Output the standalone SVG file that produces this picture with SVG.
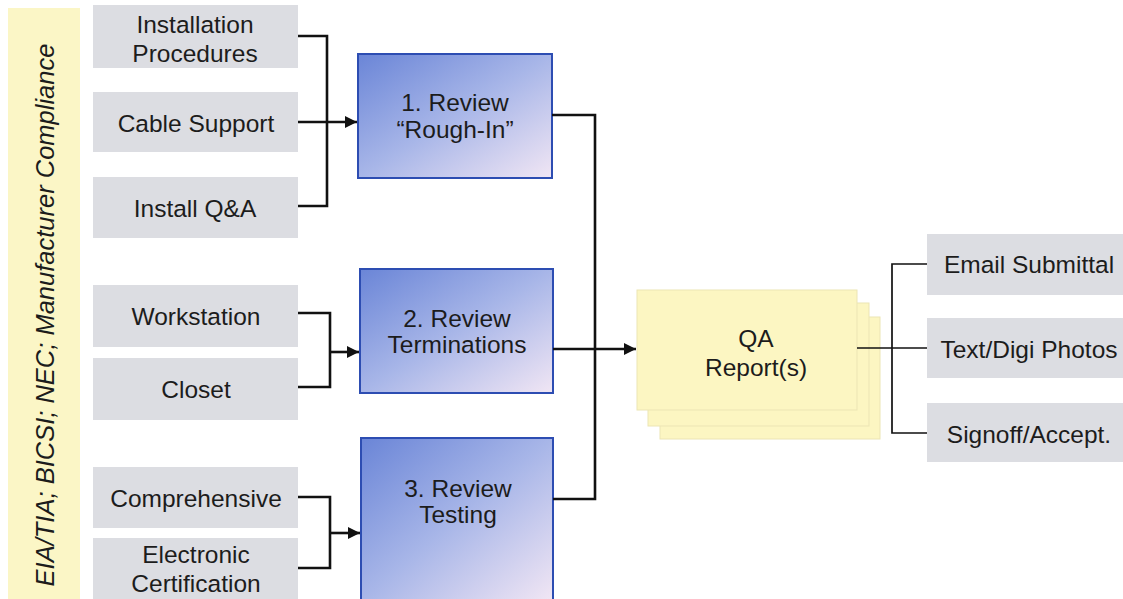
<svg xmlns="http://www.w3.org/2000/svg" width="1123" height="599" viewBox="0 0 1123 599">
<defs>
<linearGradient id="blueG" x1="0" y1="0" x2="1" y2="1">
<stop offset="0" stop-color="#6a85d7"/>
<stop offset="0.5" stop-color="#a8b6e8"/>
<stop offset="1" stop-color="#f1e6f4"/>
</linearGradient>
<marker id="arr" markerWidth="13" markerHeight="12" refX="10" refY="5" orient="auto" markerUnits="userSpaceOnUse" viewBox="0 0 10 10">
<path d="M0,0 L10,5 L0,10 z" fill="#111111"/>
</marker>
<style>
.grey{fill:#dcdde2;}
.blue{fill:url(#blueG);stroke:#2d4db2;stroke-width:2;}
.qa{fill:#fcf6c2;stroke:#ece5b4;stroke-width:1;}
.t{font-family:"Liberation Sans",Arial,sans-serif;font-size:24.5px;fill:#1c1c1c;text-anchor:middle;}
.w{fill:none;stroke:#111111;stroke-width:2.6;}
.thin{fill:none;stroke:#111111;stroke-width:1.7;}
</style>
</defs>
<rect width="1123" height="599" fill="#ffffff"/>

<g id="compliance">
<rect x="8" y="8" width="72" height="591" fill="#fbf6c6"/>
<text class="t" transform="translate(54,315) rotate(-90)" font-style="italic" style="font-size:25.5px">EIA/TIA; BICSI; NEC; Manufacturer Compliance</text>
</g>

<g id="installation-procedures"><rect class="grey" x="93" y="5" width="205" height="63"/><text class="t" x="195" y="33">Installation</text><text class="t" x="195" y="62">Procedures</text></g>
<g id="cable-support"><rect class="grey" x="93" y="92" width="205" height="60"/><text class="t" x="196" y="132">Cable Support</text></g>
<g id="install-qa"><rect class="grey" x="93" y="177" width="205" height="61"/><text class="t" x="195" y="217">Install Q&amp;A</text></g>
<g id="workstation"><rect class="grey" x="93" y="285" width="205" height="62"/><text class="t" x="196" y="325">Workstation</text></g>
<g id="closet"><rect class="grey" x="93" y="358" width="205" height="62"/><text class="t" x="196" y="398">Closet</text></g>
<g id="comprehensive"><rect class="grey" x="93" y="467" width="205" height="61"/><text class="t" x="196" y="507">Comprehensive</text></g>
<g id="electronic-certification"><rect class="grey" x="93" y="538" width="205" height="61"/><text class="t" x="196" y="563">Electronic</text><text class="t" x="196" y="592">Certification</text></g>

<g id="review-rough-in"><rect class="blue" x="358" y="54" width="194" height="124"/><text class="t" x="455" y="111">1. Review</text><text class="t" x="455" y="138">“Rough-In”</text></g>
<g id="review-terminations"><rect class="blue" x="360" y="269" width="193" height="124"/><text class="t" x="457" y="327">2. Review</text><text class="t" x="457" y="353">Terminations</text></g>
<g id="review-testing"><rect class="blue" x="361" y="438" width="192" height="162"/><text class="t" x="458" y="497">3. Review</text><text class="t" x="458" y="523">Testing</text></g>

<g id="qa-reports">
<rect class="qa" x="660" y="317" width="220" height="122"/>
<rect class="qa" x="648" y="303" width="221" height="123"/>
<rect class="qa" x="637" y="290" width="220" height="120"/>
<text class="t" x="756" y="347">QA</text><text class="t" x="756" y="376">Report(s)</text>
</g>

<g id="email-submittal"><rect class="grey" x="927" y="234" width="196" height="61"/><text class="t" x="1029" y="273">Email Submittal</text></g>
<g id="text-digi-photos"><rect class="grey" x="927" y="318" width="196" height="60"/><text class="t" x="1029" y="358">Text/Digi Photos</text></g>
<g id="signoff-accept"><rect class="grey" x="927" y="403" width="196" height="59"/><text class="t" x="1029" y="443">Signoff/Accept.</text></g>

<g id="connectors">
<path class="w" d="M298,36 H327 V206 H298"/>
<path class="w" d="M298,122 H357" marker-end="url(#arr)"/>
<path class="w" d="M298,313 H330 V387 H298"/>
<path class="w" d="M330,352 H359" marker-end="url(#arr)"/>
<path class="w" d="M298,497 H330 V568 H298"/>
<path class="w" d="M330,533 H360" marker-end="url(#arr)"/>
<path class="w" d="M552,115 H595 V499 H553"/>
<path class="w" d="M553,349 H636" marker-end="url(#arr)"/>
<path class="thin" d="M857,348 H927"/>
<path class="thin" d="M927,264 H892 V433 H927"/>
</g>
</svg>
